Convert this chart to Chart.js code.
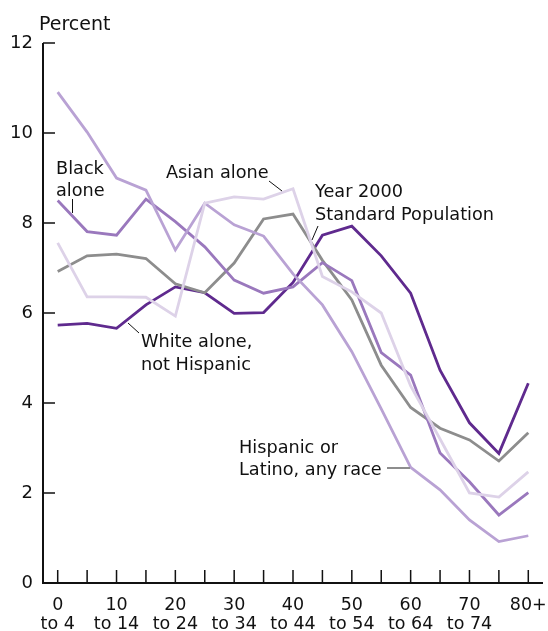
<!DOCTYPE html>
<html><head><meta charset="utf-8">
<script src="https://cdn.jsdelivr.net/npm/chart.js@4.4.1/dist/chart.umd.min.js"></script>
<style>html,body{margin:0;padding:0;background:#fff}#wrap{width:548px;height:631px}</style>
</head><body><div id="wrap"><canvas id="c" width="548" height="631"></canvas></div>
<script>
const ageGroups = ['0 to 4','5 to 9','10 to 14','15 to 19','20 to 24','25 to 29','30 to 34','35 to 39','40 to 44','45 to 49','50 to 54','55 to 59','60 to 64','65 to 69','70 to 74','75 to 79','80+'];
const xTickLabels = [['0','to 4'],'',['10','to 14'],'',['20','to 24'],'',['30','to 34'],'',['40','to 44'],'',['50','to 54'],'',['60','to 64'],'',['70','to 74'],'','80+'];
const yTicks = [0,2,4,6,8,10,12];
const whiteNotHispanic = [5.73,5.77,5.66,6.18,6.58,6.45,5.99,6.01,6.68,7.73,7.93,7.27,6.44,4.73,3.56,2.88,4.44];
const year2000Std      = [6.92,7.27,7.31,7.21,6.65,6.45,7.11,8.09,8.20,7.17,6.29,4.84,3.90,3.44,3.18,2.71,3.34];
const blackAlone       = [8.50,7.81,7.73,8.53,8.03,7.47,6.73,6.44,6.58,7.12,6.72,5.12,4.62,2.89,2.25,1.51,2.01];
const asianAlone       = [7.56,6.36,6.36,6.35,5.93,8.44,8.58,8.53,8.76,6.81,6.47,6.00,4.38,3.20,2.00,1.91,2.47];
const hispanicAnyRace  = [10.91,10.02,9.00,8.73,7.40,8.44,7.96,7.71,6.87,6.18,5.14,3.87,2.57,2.07,1.40,0.92,1.05];

const FONT = 'DejaVu Sans';
const decor = {
  id: 'decor',
  beforeDatasetsDraw(chart) {
    const ctx = chart.ctx, xs = chart.scales.x, ys = chart.scales.y, a = chart.chartArea;
    ctx.save();
    ctx.strokeStyle = '#111';
    ctx.lineWidth = 2;
    ctx.beginPath();
    ctx.moveTo(a.left, ys.getPixelForValue(12));
    ctx.lineTo(a.left, a.bottom);
    ctx.lineTo(a.right, a.bottom);
    ctx.stroke();
    ctx.lineWidth = 1.5;
    ctx.beginPath();
    yTicks.forEach(v => { const y = ys.getPixelForValue(v); ctx.moveTo(a.left, y); ctx.lineTo(a.left + 12, y); });
    ageGroups.forEach((g, i) => { const x = xs.getPixelForValue(i); ctx.moveTo(x, a.bottom); ctx.lineTo(x, a.bottom - 13); });
    ctx.stroke();
    ctx.restore();
  },
  afterDraw(chart) {
    const ctx = chart.ctx;
    ctx.save();
    ctx.fillStyle = '#111';
    ctx.textAlign = 'left';
    ctx.textBaseline = 'alphabetic';
    ctx.font = '19px "' + FONT + '"';
    ctx.fillText('Percent', 39, 30);
    ctx.font = '17.7px "' + FONT + '"';
    const texts = [
      ['Black', 56, 174], ['alone', 56, 196],
      ['Asian alone', 166, 178],
      ['Year 2000', 315, 197], ['Standard Population', 315, 220],
      ['White alone,', 141, 347], ['not Hispanic', 141, 370],
      ['Hispanic or', 239, 453], ['Latino, any race', 239, 475]
    ];
    texts.forEach(t => ctx.fillText(t[0], t[1], t[2]));
    ctx.strokeStyle = '#111';
    ctx.lineWidth = 1;
    ctx.beginPath();
    ctx.moveTo(72.5, 199); ctx.lineTo(72.5, 213);
    ctx.moveTo(269, 181); ctx.lineTo(282, 191);
    ctx.moveTo(318, 226); ctx.lineTo(312, 240);
    ctx.moveTo(139, 333); ctx.lineTo(128, 323);
    ctx.stroke();
    ctx.strokeStyle = '#8d8d8d';
    ctx.lineWidth = 2;
    ctx.beginPath();
    ctx.moveTo(387, 468); ctx.lineTo(410, 468);
    ctx.stroke();
    ctx.restore();
  }
};

const mk = (label, data, color) => ({ label, data, borderColor: color, backgroundColor: color, borderWidth: 2.8, pointRadius: 0, tension: 0, fill: false });

new Chart(document.getElementById('c'), {
  type: 'line',
  data: {
    labels: ageGroups,
    datasets: [
      mk('Asian alone', asianAlone, '#ddd2e8'),
      mk('Hispanic or Latino, any race', hispanicAnyRace, '#b9a2d4'),
      mk('Black alone', blackAlone, '#9a78bd'),
      mk('Year 2000 Standard Population', year2000Std, '#8d8d8d'),
      mk('White alone, not Hispanic', whiteNotHispanic, '#5f2a8e')
    ]
  },
  options: {
    responsive: false,
    animation: false,
    devicePixelRatio: 1,
    layout: { padding: { left: 0, right: 5, top: 43, bottom: 0 } },
    plugins: { legend: { display: false }, tooltip: { enabled: false } },
    scales: {
      x: {
        type: 'category', offset: true,
        grid: { display: false, drawTicks: false }, border: { display: false },
        ticks: { autoSkip: false, maxRotation: 0, minRotation: 0, padding: 13, color: '#111',
                 font: { family: FONT, size: 17.5, lineHeight: 1.08 },
                 callback: (v, i) => xTickLabels[i] },
        afterFit: s => { s.height = 48; s.paddingLeft = 0; s.paddingRight = 0; }
      },
      y: {
        min: 0, max: 12,
        afterBuildTicks: s => { s.ticks = yTicks.map(v => ({ value: v })); },
        grid: { display: false, drawTicks: false }, border: { display: false },
        ticks: { padding: 10, color: '#111', font: { family: FONT, size: 18 } },
        afterFit: s => { s.width = 43; s.paddingTop = 0; s.paddingBottom = 0; }
      }
    }
  },
  plugins: [decor]
});
</script></body></html>
